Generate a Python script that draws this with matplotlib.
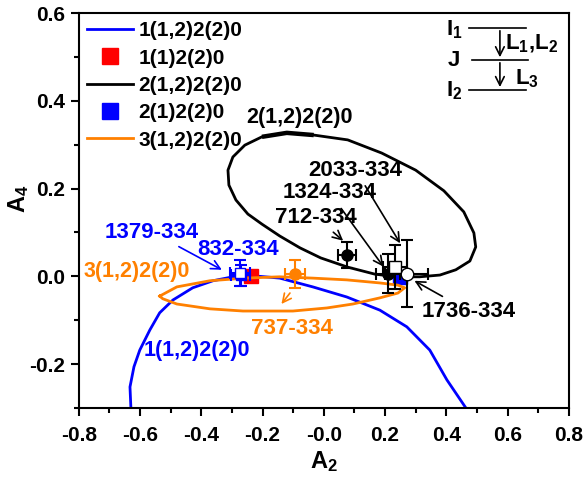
import numpy as np
import matplotlib.pyplot as plt

plt.rcParams['font.family'] = 'Liberation Sans'
plt.rcParams['font.weight'] = 'bold'
plt.rcParams['axes.labelweight'] = 'bold'
plt.rcParams['font.size'] = 15.5
plt.rcParams['mathtext.fontset'] = 'custom'
plt.rcParams['mathtext.rm'] = 'Liberation Sans:bold'
plt.rcParams['mathtext.bf'] = 'Liberation Sans:bold'
plt.rcParams['mathtext.default'] = 'bf'

# theoretical A2/A4 curves, traced along the mixing ratio
blue_a2 = [-0.630, -0.633, -0.620, -0.601, -0.568, -0.536, -0.493, -0.428, -0.362, -0.297,
           -0.225, -0.144, -0.036, 0.075, 0.183, 0.271, 0.346, 0.402, 0.464]
blue_a4 = [-0.300, -0.252, -0.206, -0.168, -0.122, -0.083, -0.054, -0.026, -0.010, -0.001,
           0.001, -0.004, -0.024, -0.047, -0.077, -0.115, -0.168, -0.236, -0.300]

black_a2 = [-0.121, -0.033, 0.078, 0.189, 0.300, 0.392, 0.457, 0.490, 0.496, 0.477, 0.431,
            0.379, 0.313, 0.264, 0.216, 0.167, 0.078, -0.010, -0.078, -0.144, -0.202, -0.248,
            -0.287, -0.310, -0.313, -0.297, -0.258, -0.202, -0.121]
black_a4 = [0.327, 0.322, 0.311, 0.281, 0.242, 0.195, 0.147, 0.099, 0.067, 0.035, 0.015,
            0.003, -0.001, -0.001, 0.001, 0.005, 0.021, 0.042, 0.065, 0.092, 0.119, 0.142,
            0.174, 0.208, 0.242, 0.272, 0.299, 0.318, 0.327]

orange_a2 = [-0.536, -0.480, -0.372, -0.258, -0.144, -0.036, 0.075, 0.183, 0.242, 0.264,
             0.242, 0.183, 0.095, 0.010, -0.101, -0.264, -0.372, -0.480, -0.526, -0.536]
orange_a4 = [-0.045, -0.024, -0.010, -0.004, -0.001, -0.004, -0.008, -0.015, -0.020, -0.026,
             -0.038, -0.049, -0.063, -0.072, -0.079, -0.079, -0.074, -0.063, -0.051, -0.045]

# pure transitions
pure_red = (-0.238, 0.001)
pure_blue = (0.248, -0.001)

# measured coefficients: name, A2, A4, dA2, dA4
gammas = ['1379-334', '832-334', '737-334', '712-334', '1324-334', '2033-334', '1736-334']
exp_a2 = [-0.272, -0.274, -0.095, 0.075, 0.209, 0.232, 0.271]
exp_a4 = [0.002, 0.008, 0.005, 0.049, 0.006, 0.021, 0.006]
err_a2 = [0.030, 0.033, 0.033, 0.030, 0.040, 0.040, 0.070]
err_a4 = [0.025, 0.030, 0.032, 0.030, 0.045, 0.050, 0.076]

fig = plt.figure(figsize=(5.84, 4.84), dpi=100)
ax = fig.add_axes([0.135, 0.157, 0.839, 0.816])

ax.plot(blue_a2, blue_a4, color='#0000ff', lw=2, label='1(1,2)2(2)0')
ax.plot(*pure_red, 's', color='#ff0000', ms=10, label='1(1)2(2)0')
ax.plot(black_a2, black_a4, color='black', lw=2, label='2(1,2)2(2)0')
ax.plot(*pure_blue, 's', color='#0000ff', ms=10, label='2(1)2(2)0')
ax.plot(orange_a2, orange_a4, color='#ff8000', lw=2, label='3(1,2)2(2)0')
# thicker stretch on top of the black ellipse
ax.plot(black_a2[-2:] + black_a2[:2], black_a4[-2:] + black_a4[:2], color='black', lw=3.2,
        solid_capstyle='butt')

# data points
eb = dict(capsize=4, elinewidth=1.5, capthick=1.5)
ax.errorbar(exp_a2[0], exp_a4[0], xerr=err_a2[0], yerr=err_a4[0], fmt='s', color='#0000ff',
            ms=7, **eb)
ax.errorbar(exp_a2[1], exp_a4[1], xerr=err_a2[1], yerr=err_a4[1], fmt='s', color='#0000ff',
            mfc='white', ms=7, **eb)
ax.errorbar(exp_a2[2], exp_a4[2], xerr=err_a2[2], yerr=err_a4[2], fmt='o', color='#ff8000',
            ms=8, **eb)
ax.errorbar(exp_a2[3], exp_a4[3], xerr=err_a2[3], yerr=err_a4[3], fmt='o', color='black',
            ms=8, **eb)
ax.errorbar(exp_a2[4], exp_a4[4], xerr=err_a2[4], yerr=err_a4[4], fmt='o', color='black',
            ms=8, **eb)
ax.errorbar(exp_a2[5], exp_a4[5], xerr=err_a2[5], yerr=err_a4[5], fmt='s', color='black',
            mfc='white', ms=8, **eb)
ax.errorbar(exp_a2[6], exp_a4[6], xerr=err_a2[6], yerr=err_a4[6], fmt='o', color='black',
            mfc='white', ms=9, **eb)

# point labels with arrows
arrow = dict(arrowstyle='->', lw=1.2)
pl = dict(ha='center', va='center', fontsize=16)
ax.annotate(gammas[0], xy=(-0.325, 0.012), xytext=(-0.562, 0.101), color='#0000ff',
            arrowprops=dict(arrow, color='#0000ff'), **pl)
ax.text(-0.281, 0.061, gammas[1], color='#0000ff', **pl)
ax.annotate('', xy=(-0.144, -0.068), xytext=(-0.105, -0.033),
            arrowprops=dict(arrow, color='#ff8000'))
ax.text(-0.104, -0.118, gammas[2], color='#ff8000', **pl)
ax.annotate(gammas[3], xy=(0.070, 0.077), xytext=(-0.026, 0.135), color='black',
            arrowprops=dict(arrow, color='black'), **pl)
ax.annotate(gammas[4], xy=(0.200, 0.017), xytext=(0.020, 0.190), color='black',
            arrowprops=dict(arrow, color='black'), **pl)
ax.annotate(gammas[5], xy=(0.254, 0.070), xytext=(0.104, 0.242), color='black',
            arrowprops=dict(arrow, color='black'), **pl)
ax.annotate(gammas[6], xy=(0.288, -0.007), xytext=(0.473, -0.079), color='black',
            arrowprops=dict(arrow, color='black'), **pl)

# curve labels
ax.text(-0.078, 0.363, '2(1,2)2(2)0', color='black', ha='center', va='center')
ax.text(-0.415, -0.168, '1(1,2)2(2)0', color='#0000ff', ha='center', va='center')
ax.text(-0.785, 0.010, '3(1,2)2(2)0', color='#ff8000', ha='left', va='center')

# level scheme
ax.plot([0.474, 0.660], [0.566, 0.566], color='black', lw=1.2)
ax.plot([0.483, 0.666], [0.493, 0.493], color='black', lw=1.2)
ax.plot([0.474, 0.660], [0.425, 0.425], color='black', lw=1.2)
ax.annotate('', xy=(0.575, 0.493), xytext=(0.575, 0.566), arrowprops=dict(arrow, color='black'))
ax.annotate('', xy=(0.575, 0.425), xytext=(0.575, 0.493), arrowprops=dict(arrow, color='black'))
ax.text(0.425, 0.561, r'I$_1$', ha='center', va='center', fontsize=16)
ax.text(0.425, 0.491, 'J', ha='center', va='center', fontsize=16)
ax.text(0.425, 0.424, r'I$_2$', ha='center', va='center', fontsize=16)
ax.text(0.592, 0.530, r'L$_1$,L$_2$', ha='left', va='center', fontsize=16)
ax.text(0.625, 0.450, r'L$_3$', ha='left', va='center', fontsize=16)

ax.set_xlim(-0.8, 0.8)
ax.set_ylim(-0.3, 0.6)
ax.set_xticks(np.arange(-0.8, 0.81, 0.2))
ax.set_yticks([-0.2, 0.0, 0.2, 0.4, 0.6])
ax.set_xticks(np.arange(-0.7, 0.8, 0.2), minor=True)
ax.set_yticks(np.arange(-0.3, 0.6, 0.2), minor=True)
ax.xaxis.set_major_formatter(plt.FormatStrFormatter('%.1f'))
ax.yaxis.set_major_formatter(plt.FormatStrFormatter('%.1f'))
ax.tick_params(axis='x', which='major', pad=7)
ax.tick_params(axis='y', which='major', pad=4)
ax.tick_params(which='major', length=6, width=1.5, labelsize=15)
ax.tick_params(which='minor', length=3.5, width=1.5)
for s in ax.spines.values():
    s.set_linewidth(1.5)
ax.set_xlabel(r'A$_2$', fontsize=17, labelpad=3)
ax.set_ylabel(r'A$_4$', fontsize=17)
ax.yaxis.set_label_coords(-0.097, 0.53)

ax.legend(loc='upper left', frameon=False, handlelength=2.2, handletextpad=0.25,
          labelspacing=0.4, borderaxespad=0.0, numpoints=1, markerscale=1.2, fontsize=15)

fig.savefig('out.png', dpi=100)
